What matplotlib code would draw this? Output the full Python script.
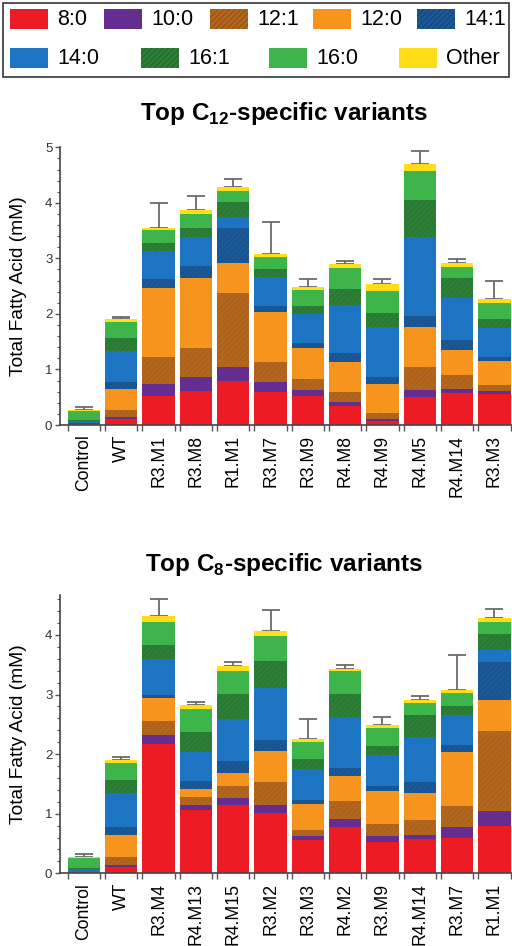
import numpy as np
import pandas as pd
import matplotlib
matplotlib.use('Agg')
import matplotlib.pyplot as plt
from matplotlib.patches import Rectangle

plt.rcParams['font.family'] = ['Liberation Sans', 'DejaVu Sans']
plt.rcParams['mathtext.fontset'] = 'custom'
plt.rcParams['mathtext.rm'] = 'Liberation Sans'
plt.rcParams['mathtext.bf'] = 'Liberation Sans:bold'
plt.rcParams['hatch.linewidth'] = 0.6

# Souches (toutes celles qui apparaissent dans les deux panneaux)
strains = ['Control', 'WT', 'R3.M1', 'R3.M8', 'R1.M1', 'R3.M7', 'R3.M9', 'R4.M8',
           'R4.M9', 'R4.M5', 'R4.M14', 'R3.M3', 'R3.M4', 'R4.M13', 'R4.M15',
           'R3.M2', 'R4.M2']

# Composition en acides gras (mM), une liste par espèce
fa_8_0 = [0.005, 0.11, 0.53, 0.62, 0.80, 0.60, 0.53, 0.34, 0.08, 0.50, 0.58, 0.56, 2.17, 1.07, 1.15, 1.02, 0.77]
fa_10_0 = [0.0, 0.03, 0.21, 0.24, 0.25, 0.18, 0.10, 0.07, 0.03, 0.13, 0.07, 0.06, 0.15, 0.08, 0.11, 0.13, 0.14]
fa_12_1 = [0.01, 0.13, 0.48, 0.52, 1.33, 0.35, 0.20, 0.19, 0.11, 0.42, 0.25, 0.10, 0.24, 0.13, 0.21, 0.39, 0.31]
fa_12_0 = [0.005, 0.38, 1.24, 1.27, 0.53, 0.91, 0.55, 0.54, 0.52, 0.72, 0.45, 0.44, 0.38, 0.13, 0.21, 0.52, 0.41]
fa_14_1 = [0.01, 0.12, 0.16, 0.21, 0.64, 0.11, 0.09, 0.15, 0.12, 0.19, 0.18, 0.07, 0.05, 0.14, 0.21, 0.17, 0.14]
fa_14_0 = [0.04, 0.57, 0.52, 0.52, 0.19, 0.51, 0.52, 0.87, 0.91, 1.43, 0.76, 0.52, 0.60, 0.48, 0.70, 0.88, 0.85]
fa_16_1 = [0.02, 0.23, 0.14, 0.16, 0.27, 0.15, 0.15, 0.28, 0.24, 0.67, 0.36, 0.16, 0.24, 0.34, 0.42, 0.45, 0.39]
fa_16_0 = [0.17, 0.28, 0.23, 0.26, 0.20, 0.21, 0.29, 0.39, 0.40, 0.51, 0.20, 0.29, 0.39, 0.39, 0.39, 0.42, 0.38]
fa_other = [0.01, 0.05, 0.04, 0.08, 0.07, 0.05, 0.06, 0.06, 0.12, 0.13, 0.06, 0.06, 0.09, 0.07, 0.08, 0.08, 0.04]
# Erreur (seulement vers le haut)
err_up = [0.05, 0.05, 0.45, 0.25, 0.15, 0.59, 0.13, 0.06, 0.09, 0.23, 0.07, 0.33, 0.29, 0.04, 0.07, 0.36, 0.07]

species = ['8:0', '10:0', '12:1', '12:0', '14:1', '14:0', '16:1', '16:0', 'Other']

# Ordre des barres dans chaque panneau
order_c12 = ['Control', 'WT', 'R3.M1', 'R3.M8', 'R1.M1', 'R3.M7', 'R3.M9', 'R4.M8',
             'R4.M9', 'R4.M5', 'R4.M14', 'R3.M3']
order_c8 = ['Control', 'WT', 'R3.M4', 'R4.M13', 'R4.M15', 'R3.M2', 'R3.M3', 'R4.M2',
            'R3.M9', 'R4.M14', 'R3.M7', 'R1.M1']

df = pd.DataFrame({'8:0': fa_8_0, '10:0': fa_10_0, '12:1': fa_12_1, '12:0': fa_12_0,
                   '14:1': fa_14_1, '14:0': fa_14_0, '16:1': fa_16_1, '16:0': fa_16_0,
                   'Other': fa_other, 'err': err_up}, index=strains)

# Style : (couleur, hachure, hachure dans la légende, hachure dans les barres)
styles = {
    '8:0': ('#ed1c24', None, '#ed1c24', '#ed1c24'),
    '10:0': ('#662d91', None, '#662d91', '#662d91'),
    '12:1': ('#b3671e', '//////', '#8a4c10', '#a65e18'),
    '12:0': ('#f7941e', None, '#f7941e', '#f7941e'),
    '14:1': ('#1b5896', '//////', '#133f70', '#184f88'),
    '14:0': ('#1c74c2', None, '#1c74c2', '#1c74c2'),
    '16:1': ('#2d7f37', '//////', '#1f5e27', '#28732f'),
    '16:0': ('#3db54a', None, '#3db54a', '#3db54a'),
    'Other': ('#ffde17', None, '#ffde17', '#ffde17'),
}

W, H = 512, 946
fig = plt.figure(figsize=(W / 100, H / 100), dpi=100)

# Légende dessinée à la main (deux lignes décalées comme dans l'original)
lax = fig.add_axes([0, 0, 1, 1])
lax.set_xlim(0, W)
lax.set_ylim(H, 0)
lax.axis('off')
lax.add_patch(Rectangle((3, 3), 506, 74, fill=False, edgecolor='#444444', lw=1.3))
leg_rows = [(['8:0', '10:0', '12:1', '12:0', '14:1'], [10, 104, 210, 313, 417], 9),
            (['14:0', '16:1', '16:0', 'Other'], [10, 141, 269, 399], 48)]
for names, xs, y0 in leg_rows:
    for name, x0 in zip(names, xs):
        c, h, hc, _ = styles[name]
        lax.add_patch(Rectangle((x0, y0), 38, 20, facecolor=c, hatch=h,
                                edgecolor=hc, lw=0))
        lax.text(x0 + 47, y0 + 10.5, name, fontsize=15.5, va='center', ha='left')


def draw_panel(ax, order, ymax, yticks):
    sub = df.loc[order]
    x = np.arange(len(order))
    bottom = np.zeros(len(order))
    for name in species:
        c, h, _, bhc = styles[name]
        vals = sub[name].values
        ax.bar(x, vals, width=0.86, bottom=bottom, color=c, hatch=h,
               edgecolor=bhc, linewidth=0, zorder=2)
        bottom += vals
    ax.errorbar(x, bottom, yerr=[np.zeros(len(order)), sub['err'].values], fmt='none',
                ecolor='#6a6a6a', elinewidth=1.3, capsize=6.5, capthick=1.3, zorder=1)
    ax.set_xlim(-0.64, len(order) - 0.53)
    ax.set_ylim(0, ymax)
    ax.set_xticks(x)
    ax.set_xticklabels(order, rotation=90, fontsize=12.7)
    ax.set_xticks(np.concatenate([x - 0.43, x + 0.43]), minor=True)
    ax.tick_params(axis='x', which='major', length=0, pad=7)
    ax.tick_params(axis='x', which='minor', length=4.5, width=1, color='#555555', direction='out')
    ax.set_yticks(yticks)
    ax.set_yticks(np.arange(0, ymax + 0.001, 0.2), minor=True)
    ax.tick_params(axis='y', which='major', length=3.5, width=1, color='#555555',
                   labelsize=9.5, labelcolor='#333333', pad=2)
    ax.tick_params(axis='y', which='minor', length=2, width=0.8, color='#555555')
    for s in ['top', 'right']:
        ax.spines[s].set_visible(False)
    for s in ['left', 'bottom']:
        ax.spines[s].set_color('#444444')
        ax.spines[s].set_linewidth(1.2)
    ax.set_ylabel('Total Fatty Acid (mM)', fontsize=13.8)
    ax.yaxis.set_label_coords(-0.073, 0.5)


left = 60 / W
width = 1 - left
ax1 = fig.add_axes([left, 1 - 425 / H, width, (425 - 147.3) / H])
draw_panel(ax1, order_c12, 5, [0, 1, 2, 3, 4, 5])
ax2 = fig.add_axes([left, 1 - 873.3 / H, width, (873.3 - 595) / H])
draw_panel(ax2, order_c8, 4.67, [0, 1, 2, 3, 4])

fig.text(284 / W, 1 - 120 / H, r'Top C$_{\mathbf{12}}$-specific variants', fontsize=17.5,
         fontweight='bold', ha='center', va='baseline')
fig.text(284 / W, 1 - 571 / H, r'Top C$_{\mathbf{8}}$-specific variants', fontsize=17.5,
         fontweight='bold', ha='center', va='baseline')

fig.savefig('out.png', dpi=100)
